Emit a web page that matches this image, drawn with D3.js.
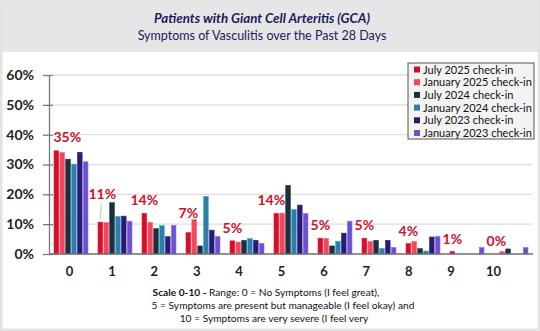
<!DOCTYPE html>
<html><head><meta charset="utf-8">
<script src="https://cdn.jsdelivr.net/npm/d3@7/dist/d3.min.js"></script>
<style>
html,body{margin:0;padding:0;background:#fff;}
svg{display:block;font-family:Lato,"Open Sans",sans-serif;}
</style></head>
<body>
<svg id="c" width="540" height="331"></svg>
<script>
const categories = ["0","1","2","3","4","5","6","7","8","9","10"];
const seriesNames = ["July 2025 check-in","January 2025 check-in","July 2024 check-in","January 2024 check-in","July 2023 check-in","January 2023 check-in"];
const july2025 = [34.6, 10.7, 13.6, 7.2, 4.4, 13.6, 5.3, 5.3, 3.5, 0.8, 0];
const jan2025  = [34.0, 10.5, 10.6, 11.5, 4.0, 13.7, 5.2, 4.2, 4.2, 0, 0.8];
const july2024 = [31.8, 17.2, 8.5, 2.7, 4.6, 23.0, 2.7, 4.6, 1.8, 0, 1.7];
const jan2024  = [30.1, 12.6, 9.5, 19.3, 5.2, 14.9, 4.3, 1.9, 1.0, 0, 0];
const july2023 = [34.1, 12.7, 5.8, 8.0, 4.6, 16.4, 7.0, 4.6, 5.7, 0, 0];
const jan2023  = [30.9, 11.0, 9.6, 5.9, 3.6, 13.6, 11.0, 2.2, 5.9, 2.2, 2.2];
const labelTexts = ["35%","11%","14%","7%","5%","14%","5%","5%","4%","1%","0%"];
const yTicks = [0,10,20,30,40,50,60];

const seriesValues = [july2025, jan2025, july2024, jan2024, july2023, jan2023];
const colors = ["#d0102a","#f4465b","#1b2f3d","#2e7ea6","#2a1b6c","#6b50cf"];

const svg = d3.select("#c");
const W = 540, H = 331;

// frame + header
svg.append("rect").attr("x",0).attr("y",0).attr("width",W).attr("height",H).attr("fill","#fff");
svg.append("rect").attr("x",0).attr("y",0).attr("width",W).attr("height",52).attr("fill","#e6e6e6");
svg.append("rect").attr("x",1).attr("y",1).attr("width",W-2).attr("height",H-2)
  .attr("fill","none").attr("stroke","#e3e3e3").attr("stroke-width",3);

svg.append("text").attr("x",262).attr("y",23).attr("text-anchor","middle")
  .attr("font-size",13.3).attr("font-weight","bold").attr("font-style","italic").attr("fill","#1b1b5e")
  .text("Patients with Giant Cell Arteritis (GCA)");
svg.append("text").attr("x",262).attr("y",40).attr("text-anchor","middle")
  .attr("font-size",12.5).attr("fill","#1b1b5e")
  .text("Symptoms of Vasculitis over the Past 28 Days");

const y = d3.scaleLinear().domain([0,60]).range([254,75]);
const x0 = d3.scaleBand().domain(categories).range([49,533]).padding(0);
const x1 = d3.scaleBand().domain(seriesNames).range([5,39]).paddingInner(0.2);
const xLab = d3.scalePoint().domain(categories).range([69,493]);

// gridlines
svg.append("g").selectAll("line").data(yTicks.filter(t=>t>0)).join("line")
  .attr("x1",53).attr("x2",532).attr("y1",d=>y(d)).attr("y2",d=>y(d))
  .attr("stroke","#dedede").attr("stroke-width",1.3);

// y axis
const yAxis = d3.axisLeft(y).tickValues(yTicks).tickFormat(d=>d+"%").tickSizeInner(5).tickSizeOuter(0).tickPadding(10);
const gy = svg.append("g").attr("transform","translate(49,0)").call(yAxis);
gy.select(".domain").attr("stroke","#7a7a7a").attr("stroke-width",1.3);
gy.selectAll(".tick line").attr("stroke","#7a7a7a").attr("stroke-width",1.3).attr("x1",4).attr("x2",-6);
gy.selectAll(".tick text").attr("font-size",14).attr("font-weight","bold").attr("fill","#222")
  .attr("font-family","Lato,'Open Sans',sans-serif");

// bars
const groups = svg.append("g").selectAll("g").data(categories).join("g")
  .attr("transform",d=>`translate(${x0(d)},0)`);
groups.selectAll("rect").data((c,i)=>seriesNames.map((s,j)=>({s, j, v: seriesValues[j][i]})))
  .join("rect")
  .attr("x",d=>x1(d.s)).attr("width",x1.bandwidth())
  .attr("y",d=>y(d.v)).attr("height",d=>y(0)-y(d.v))
  .attr("fill",(d)=>colors[d.j])
  .attr("stroke",d=>d3.color(colors[d.j]).brighter(0.9)).attr("stroke-width",0.6);

// x axis baseline
svg.append("line").attr("x1",49).attr("x2",533).attr("y1",y(0)).attr("y2",y(0))
  .attr("stroke","#6f6f6f").attr("stroke-width",1.5);

// x tick labels
const xAxis = d3.axisBottom(xLab).tickSize(0).tickPadding(0);
const gx = svg.append("g").attr("transform",`translate(0,${y(0)+13})`).call(xAxis);
gx.select(".domain").remove();
gx.selectAll(".tick text").attr("font-size",13).attr("font-weight","bold").attr("fill","#222")
  .attr("font-family","Lato,'Open Sans',sans-serif");

// data labels (July 2025 values), with Excel-like manual nudges
const nudge = {0:[11,-1],1:[2,-15],3:[0,-7],5:[-5,0]};
const redCenter = i => x0(categories[i]) + x1(seriesNames[0]) + x1.bandwidth()/2;
const lab = svg.append("g");
labelTexts.forEach((t,i)=>{
  const n = nudge[i] || [0,0];
  const lx = redCenter(i) + n[0], ly = y(july2025[i]) - 8 + n[1];
  lab.append("text").attr("x",lx).attr("y",ly).attr("text-anchor","middle")
    .attr("font-size",14).attr("font-weight","bold").attr("fill","#d0102a").text(t);
  if(i===1){
    lab.append("line").attr("x1",lx-1).attr("y1",ly+4).attr("x2",redCenter(i)).attr("y2",y(july2025[i])-3)
      .attr("stroke","#bdbdbd").attr("stroke-width",1);
  }
});

// legend
const lg = svg.append("g").attr("transform","translate(408,63)");
lg.append("rect").attr("width",126).attr("height",76).attr("fill","#f3f3f3").attr("stroke","#555").attr("stroke-width",1);
seriesNames.forEach((s,i)=>{
  const ry = 6.5 + i*12.7;
  lg.append("rect").attr("x",6).attr("y",ry-3).attr("width",6).attr("height",6).attr("fill",colors[i]);
  lg.append("text").attr("x",15).attr("y",ry+4).attr("font-size",11).attr("fill","#111").text(s);
});

// caption
const cap = svg.append("g").attr("font-size",10.2).attr("fill","#111").attr("text-anchor","middle");
const t1 = cap.append("text").attr("x",266).attr("y",296);
t1.append("tspan").attr("font-weight","bold").text("Scale 0-10 - ");
t1.append("tspan").text("Range: 0 = No Symptoms (I feel great),");
cap.append("text").attr("x",283).attr("y",309).text("5 = Symptoms are present but manageable (I feel okay) and");
cap.append("text").attr("x",274).attr("y",322).text("10 = Symptoms are very severe (I feel very");
</script>
</body></html>
